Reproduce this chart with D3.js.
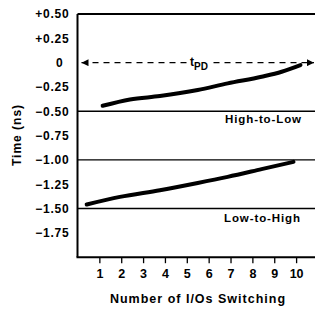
<!DOCTYPE html>
<html><head><meta charset="utf-8">
<script src="https://cdn.jsdelivr.net/npm/d3@7"></script>
<style>
html,body{margin:0;padding:0;background:#fff;}
svg{display:block;}
text{font-family:Arial,"Liberation Sans",Helvetica,sans-serif;font-weight:bold;fill:#000;}
</style></head>
<body>
<svg id="c" width="315" height="316"></svg>
<script>
// Data
const xTicks = [1,2,3,4,5,6,7,8,9,10];
const yTicks = [0.5,0.25,0,-0.25,-0.5,-0.75,-1.0,-1.25,-1.5,-1.75];
const yTickLabels = ["+0.50","+0.25","0","\u22120.25","\u22120.50","\u22120.75","\u22121.00","\u22121.25","\u22121.50","\u22121.75"];
const gridValues = [-0.5,-1.0,-1.5];
const highToLowX = [1.15,2.4,3.77,5.5,6.87,8.42,9.34,10.2];
const highToLowY = [-0.443,-0.378,-0.344,-0.282,-0.213,-0.145,-0.094,-0.025];
const lowToHighX = [0.42,1.94,3.77,5.5,6.87,8.42,9.88];
const lowToHighY = [-1.458,-1.38,-1.311,-1.237,-1.174,-1.095,-1.02];
const tpdValue = 0;

const svg = d3.select("#c");
const x = d3.scaleLinear().domain([0,11]).range([77.5, 77.5+11*21.86]);
const y = d3.scaleLinear().domain([-2,0.5]).range([257.2,14]);
const X0 = x(0), XR = 315;

// top border and gridlines
svg.append("line").attr("x1",X0).attr("x2",XR).attr("y1",y(0.5)).attr("y2",y(0.5))
  .attr("stroke","#000").attr("stroke-width",2);
svg.selectAll(".grid").data(gridValues).enter().append("line")
  .attr("x1",X0).attr("x2",XR).attr("y1",d=>y(d)).attr("y2",d=>y(d))
  .attr("stroke","#000").attr("stroke-width",1.4);

// left axis
const ya = svg.append("g").attr("transform",`translate(${X0},0)`)
  .call(d3.axisLeft(y).tickValues(yTicks).tickSize(0).tickPadding(8)
    .tickFormat((d,i)=>yTickLabels[i]));
ya.select(".domain").attr("stroke","#000").attr("stroke-width",2).attr("d",`M0,${y(0.5)}V${y(-2)}`);
ya.selectAll("text").attr("font-size",12).style("letter-spacing","0.8px")
  .attr("font-family","Arial, sans-serif").attr("font-weight","bold")
  .attr("dx",(d)=>d===0 ? -6 : 0);

// bottom axis
const xa = svg.append("g").attr("transform",`translate(0,${y(-2)})`)
  .call(d3.axisBottom(x).tickValues(xTicks).tickSize(6).tickPadding(6).tickFormat(d3.format("d")));
xa.select(".domain").attr("stroke","#000").attr("stroke-width",2).attr("d",`M${X0-1},0H${XR}`);
xa.selectAll(".tick line").attr("stroke","#000").attr("stroke-width",1.3);
xa.selectAll("text").attr("font-size",12.5).attr("font-family","Arial, sans-serif").attr("font-weight","bold");

// tPD dashed line with arrows
const defs = svg.append("defs");
defs.append("marker").attr("id","arr").attr("viewBox","0 0 10 10").attr("refX",10).attr("refY",5)
  .attr("markerWidth",9).attr("markerHeight",7).attr("markerUnits","userSpaceOnUse").attr("orient","auto-start-reverse")
  .append("path").attr("d","M0,0L10,5L0,10Z").attr("fill","#000");
svg.append("line").attr("x1",x(0)+4).attr("x2",XR-1).attr("y1",y(tpdValue)).attr("y2",y(tpdValue))
  .attr("stroke","#000").attr("stroke-width",1.2).attr("stroke-dasharray","6,5")
  .attr("marker-start","url(#arr)").attr("marker-end","url(#arr)");
svg.append("rect").attr("x",189).attr("y",y(tpdValue)-3).attr("width",21).attr("height",8).attr("fill","#fff");
const tl = svg.append("text").attr("x",190).attr("y",y(tpdValue)+3).attr("font-size",12);
tl.append("tspan").text("t");
tl.append("tspan").attr("dy",4).attr("font-size",10).text("PD");

// curves
const line = d3.line().x(d=>x(d[0])).y(d=>y(d[1])).curve(d3.curveMonotoneX);
svg.append("path").datum(highToLowX.map((v,i)=>[v,highToLowY[i]])).attr("d",line)
  .attr("fill","none").attr("stroke","#000").attr("stroke-width",4).attr("stroke-linecap","round");
svg.append("path").datum(lowToHighX.map((v,i)=>[v,lowToHighY[i]])).attr("d",line)
  .attr("fill","none").attr("stroke","#000").attr("stroke-width",4).attr("stroke-linecap","round");

// labels
svg.append("text").attr("x",225).attr("y",123).attr("font-size",11.5).style("letter-spacing","0.9px").text("High-to-Low");
svg.append("text").attr("x",224).attr("y",222).attr("font-size",11.5).style("letter-spacing","0.9px").text("Low-to-High");

// axis titles
svg.append("text").attr("x",198).attr("y",303).attr("text-anchor","middle").attr("font-size",12.5)
  .style("letter-spacing","1px").text("Number of I/Os Switching");
svg.append("text").attr("transform","translate(21,135) rotate(-90)").attr("text-anchor","middle")
  .attr("font-size",12).style("letter-spacing","1px").text("Time (ns)");
</script>
</body></html>
